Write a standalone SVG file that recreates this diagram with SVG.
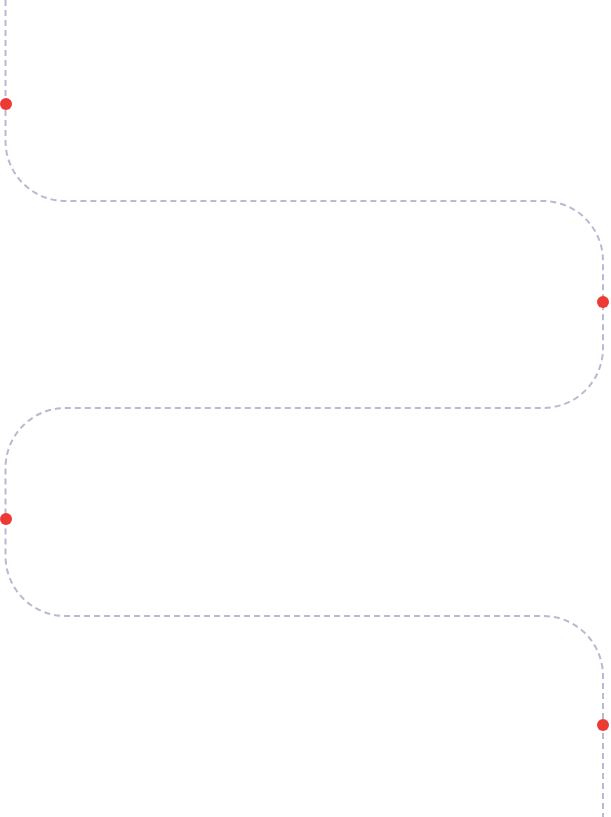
<svg xmlns="http://www.w3.org/2000/svg" width="611" height="817" viewBox="0 0 611 817">
<style>
.track{fill:none;stroke:#b9b9d1;stroke-width:2;stroke-dasharray:6 4;}
.dot{fill:#ee3a35;}
</style>
<rect width="611" height="817" fill="#ffffff"/>
<g id="connectors">
<path class="track" d="M5.5,0 V141 A60,60 0 0 0 65.5,201 H543 A60,60 0 0 1 603,261 V348 A60,60 0 0 1 543,408 H65.5 A60,60 0 0 0 5.5,468 V556 A60,60 0 0 0 65.5,616 H543 A60,60 0 0 1 603,676 V817"/>
</g>
<g id="node1"><circle class="dot" cx="6" cy="104" r="6"/></g>
<g id="node2"><circle class="dot" cx="603" cy="302" r="6"/></g>
<g id="node3"><circle class="dot" cx="6" cy="519" r="6"/></g>
<g id="node4"><circle class="dot" cx="603" cy="725" r="6"/></g>
</svg>
